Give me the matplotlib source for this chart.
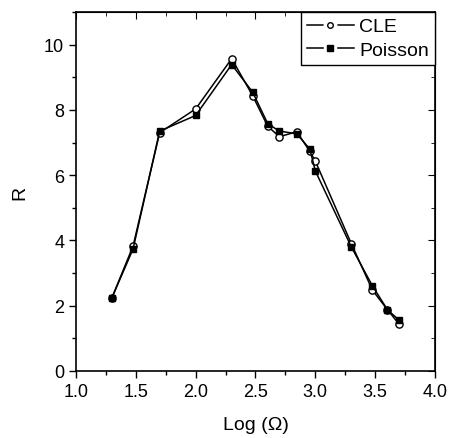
import numpy as np
import matplotlib.pyplot as plt
from matplotlib.ticker import MultipleLocator
from matplotlib.lines import Line2D
from matplotlib.legend_handler import HandlerTuple

plt.rcParams['font.family'] = ['Liberation Sans', 'DejaVu Sans']

log_omega = [1.301, 1.477, 1.699, 2.0, 2.301, 2.477, 2.602, 2.699, 2.845, 2.954, 3.0,
             3.301, 3.477, 3.602, 3.699]
r_cle = [2.25, 3.83, 7.30, 8.03, 9.57, 8.43, 7.50, 7.18, 7.33, 6.73, 6.43,
         3.90, 2.48, 1.88, 1.44]
r_poisson = [2.25, 3.74, 7.35, 7.83, 9.39, 8.54, 7.58, 7.35, 7.27, 6.80, 6.13,
             3.80, 2.61, 1.88, 1.56]

fig = plt.figure(figsize=(4.5, 4.39), dpi=100)
ax = fig.add_axes([76/450, 1 - 372/439, 359/450, 359/439])

ax.plot(log_omega, r_cle, '-o', color='black', mfc='white', mec='black',
        ms=5.2, lw=1.1, label='CLE')
ax.plot(log_omega, r_poisson, '-s', color='black', mfc='black', mec='black',
        ms=4.8, lw=1.1, label='Poisson')

ax.set_xlim(1.0, 4.0)
ax.set_ylim(0, 11)
ax.xaxis.set_minor_locator(MultipleLocator(0.25))
ax.yaxis.set_major_locator(MultipleLocator(2))
ax.yaxis.set_minor_locator(MultipleLocator(1))
ax.set_xticks([1.0, 1.5, 2.0, 2.5, 3.0, 3.5, 4.0])
ax.set_xticklabels(['1.0', '1.5', '2.0', '2.5', '3.0', '3.5', '4.0'])
ax.tick_params(which='major', direction='out', length=5, width=1, labelsize=13)
ax.tick_params(which='minor', direction='out', length=3, width=1)
for s in ax.spines.values():
    s.set_linewidth(1.2)

# inward ticks on top and right
top = ax.secondary_xaxis('top')
top.xaxis.set_major_locator(MultipleLocator(0.5))
top.xaxis.set_minor_locator(MultipleLocator(0.25))
top.tick_params(which='major', direction='in', length=5, labeltop=False)
top.tick_params(which='minor', direction='in', length=3)
right = ax.secondary_yaxis('right')
right.yaxis.set_major_locator(MultipleLocator(2))
right.yaxis.set_minor_locator(MultipleLocator(1))
right.tick_params(which='major', direction='in', length=5, labelright=False)
right.tick_params(which='minor', direction='in', length=3)

ax.set_xlabel('Log (Ω)', fontsize=14, labelpad=12)
ax.set_ylabel('R', fontsize=14, labelpad=11)

# legend handles: line with a small gap around the marker
def handle(marker, face):
    line = Line2D([], [], color='black', lw=1.1)
    gap = Line2D([], [], ls='none', marker=marker, ms=9, mfc='white', mec='white')
    mk = Line2D([], [], ls='none', marker=marker, ms=4, mfc=face, mec='black', mew=1)
    return (line, gap, mk)

leg = ax.legend([handle('o', 'white'), handle('s', 'black')], ['CLE', 'Poisson'],
                handler_map={tuple: HandlerTuple(ndivide=1, pad=0)},
                loc='upper right', fontsize=14, fancybox=False, framealpha=1,
                edgecolor='black', borderaxespad=0, handlelength=2.4,
                handletextpad=0.3, borderpad=0.3, labelspacing=0.3)
leg.get_frame().set_linewidth(1.0)

fig.savefig('out.png', dpi=100)
